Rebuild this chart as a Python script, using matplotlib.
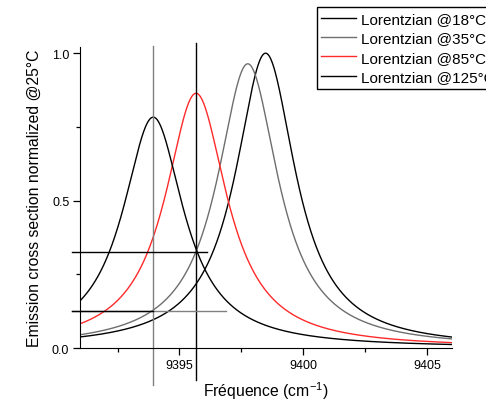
import numpy as np
import matplotlib
matplotlib.use("Agg")
import matplotlib.pyplot as plt
from matplotlib.ticker import MultipleLocator, FormatStrFormatter

plt.rcParams['font.family'] = ['Liberation Sans', 'DejaVu Sans']
plt.rcParams['mathtext.default'] = 'regular'

# Lorentzian fit parameters
labels = ['Lorentzian @18°C', 'Lorentzian @35°C', 'Lorentzian @85°C', 'Lorentzian @125°C']
centers = [9398.48, 9397.76, 9395.67, 9393.94]
heights = [1.0, 0.964, 0.864, 0.783]
hwhm = [1.48, 1.50, 1.52, 1.50]
colors = ['black', '#6e6e6e', '#ff2a2a', 'black']

# guide lines
vline_x = [9393.94, 9395.67]
vline_lo = [-0.124, -0.110]
vline_hi = [1.025, 1.036]
vline_col = ['#808080', 'black']
hline_y = [0.126, 0.126, 0.325]
hline_lo = [9390.65, 9390.65, 9390.65]
hline_hi = [9396.89, 9393.94, 9396.13]
hline_col = ['#808080', 'black', 'black']

fig = plt.figure(figsize=(4.86, 4.02), dpi=100)
ax = fig.add_axes([0.1656, 0.1318, 0.7638, 0.7481])

x = np.linspace(9391, 9406, 800)
for lab, c, h, g, col in zip(labels, centers, heights, hwhm, colors):
    y = h / (1 + ((x - c) / g) ** 2)
    ax.plot(x, y, color=col, lw=1.0, label=lab)

for xv, lo, hi, col in zip(vline_x, vline_lo, vline_hi, vline_col):
    ax.plot([xv, xv], [lo, hi], color=col, lw=1.0, clip_on=False)
for yv, lo, hi, col in zip(hline_y, hline_lo, hline_hi, hline_col):
    ax.plot([lo, hi], [yv, yv], color=col, lw=1.0, clip_on=False)

ax.set_xlim(9391, 9406)
ax.set_ylim(0, 1.02)
ax.spines['top'].set_visible(False)
ax.spines['right'].set_visible(False)
ax.xaxis.set_major_locator(MultipleLocator(5))
ax.xaxis.set_minor_locator(MultipleLocator(2.5))
ax.yaxis.set_major_locator(MultipleLocator(0.5))
ax.yaxis.set_minor_locator(MultipleLocator(0.25))
ax.yaxis.set_major_formatter(FormatStrFormatter('%.1f'))
ax.tick_params(which='major', direction='out', length=5, width=0.9, labelsize=9, pad=3)
ax.tick_params(which='minor', direction='out', length=3, width=0.9)

ax.set_xlabel('Fréquence (cm$^{-1}$)', fontsize=11.3, labelpad=6)
ax.set_ylabel('Emission cross section normalized @25°C', fontsize=11.3, labelpad=7)

fig.legend(loc='upper left', bbox_to_anchor=(0.6516, 0.979), fontsize=11,
           frameon=True, fancybox=False, edgecolor='black', framealpha=1,
           borderpad=0.3, handlelength=2.3, handletextpad=0.3, labelspacing=0.35,
           borderaxespad=0)

fig.savefig('out.png', dpi=100)
